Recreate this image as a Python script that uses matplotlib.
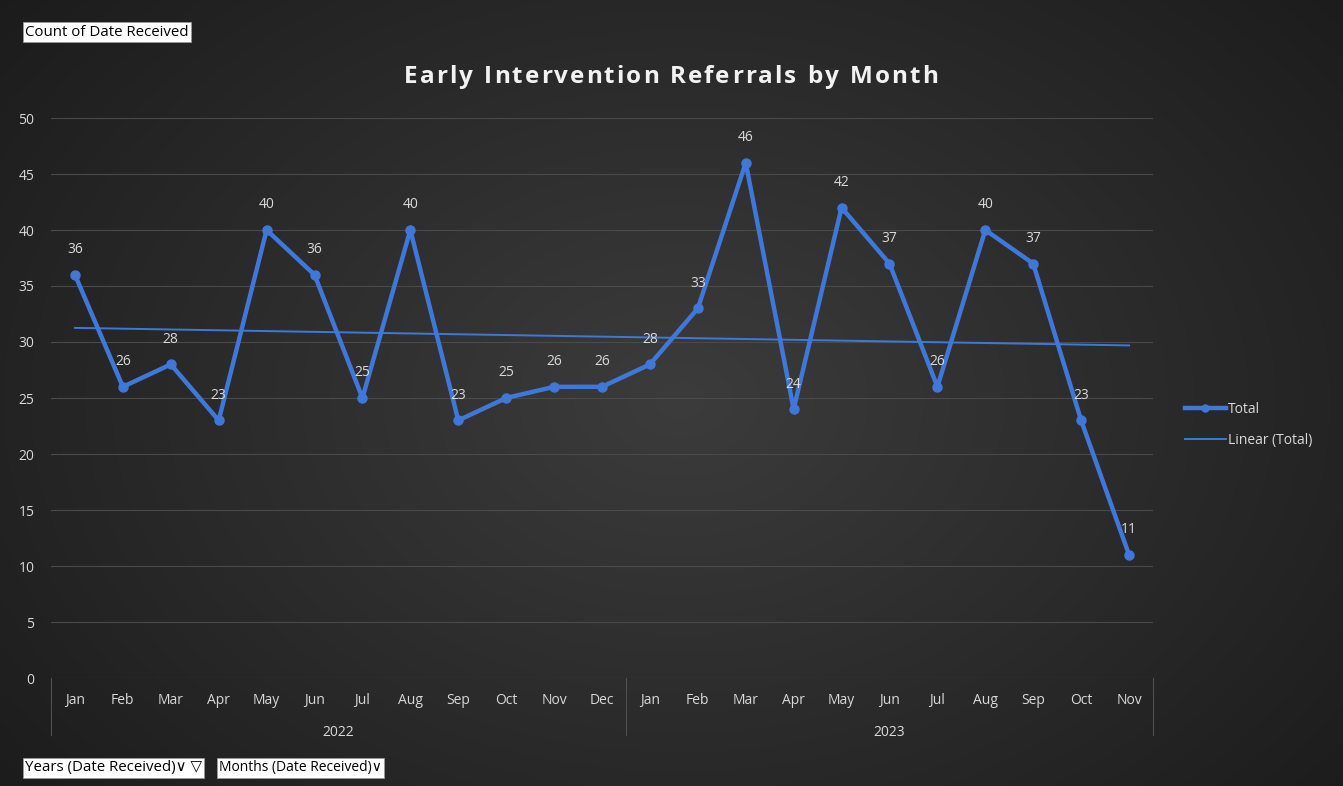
import numpy as np
import matplotlib.pyplot as plt
from matplotlib.lines import Line2D

plt.rcParams['font.family'] = ['Open Sans', 'DejaVu Sans']

# 数据
months = ['Jan', 'Feb', 'Mar', 'Apr', 'May', 'Jun', 'Jul', 'Aug', 'Sep', 'Oct', 'Nov', 'Dec',
          'Jan', 'Feb', 'Mar', 'Apr', 'May', 'Jun', 'Jul', 'Aug', 'Sep', 'Oct', 'Nov']
years = ['2022', '2023']
year_counts = [12, 11]
totals = [36, 26, 28, 23, 40, 36, 25, 40, 23, 25, 26, 26,
          28, 33, 46, 24, 42, 37, 26, 40, 37, 23, 11]
title = 'Early Intervention Referrals by Month'

W, H = 1343, 786
blue = '#3f78d8'
txt = '#d9d9d9'

fig = plt.figure(figsize=(W / 100, H / 100), dpi=100)

# 背景径向渐变
bg = fig.add_axes([0, 0, 1, 1], zorder=-1)
yy, xx = np.mgrid[0:H, 0:W]
r = np.sqrt(((xx - 680) / 900.0) ** 2 + ((yy - 400) / 650.0) ** 2)
r = np.clip(r, 0, 1)
g = 0.235 - 0.13 * r
bg.imshow(np.dstack([g, g, g]), aspect='auto', extent=[0, 1, 0, 1])
bg.axis('off')

left, right, top, bottom = 51, 1153, 118, 678
ax = fig.add_axes([left / W, 1 - bottom / H, (right - left) / W, (bottom - top) / H])
ax.set_facecolor('none')

x = np.arange(len(totals))
ax.set_xlim(-0.5, len(totals) - 0.5)
ax.set_ylim(0, 50)

# 网格
for v in range(5, 51, 5):
    ax.axhline(v, color='#4a4a4a', lw=0.8, zorder=0)
ax.axhline(0, color='#555555', lw=0.8, zorder=0)

# 趋势线
k, b = np.polyfit(x, totals, 1)
ax.plot(x, k * x + b, color=blue, lw=1.4, zorder=2)

ax.plot(x, totals, color=blue, lw=3.2, marker='o', ms=6.5, zorder=3)
for xi, v in zip(x, totals):
    ax.annotate(str(v), (xi, v), xytext=(0, 18), textcoords='offset points',
                ha='center', va='center', color=txt, fontsize=10)

ax.set_yticks(range(0, 51, 5))
ax.tick_params(axis='y', length=0, pad=12, labelcolor=txt, labelsize=10)
ax.set_xticks([])
for s in ax.spines.values():
    s.set_visible(False)

# 分类轴标签
tr = ax.get_xaxis_transform()
for xi, m in zip(x, months):
    ax.text(xi, -0.041, m, transform=tr, ha='center', va='center', color=txt, fontsize=10)
start = -0.5
for yr, n in zip(years, year_counts):
    ax.text(start + n / 2, -0.098, yr, transform=tr, ha='center', va='center', color=txt, fontsize=10)
    ax.plot([start, start], [0, -0.102], transform=tr, color='#505050', lw=0.8, clip_on=False)
    start += n
ax.plot([start, start], [0, -0.102], transform=tr, color='#505050', lw=0.8, clip_on=False)

# 标题：逐字符绘制，加字距
renderer = fig.canvas.get_renderer()
spacing = 2.0
tsize = 17.5
widths = []
for ch in title:
    t = fig.text(0, 0, ch if ch != ' ' else 'n', fontsize=tsize, fontweight='bold')
    w = t.get_window_extent(renderer).width
    if ch == ' ':
        w *= 0.45
    widths.append(w)
    t.remove()
total_w = sum(widths) + spacing * (len(title) - 1)
cx = 671 - total_w / 2
for ch, w in zip(title, widths):
    if ch != ' ':
        fig.text(cx / W, 1 - 77 / H, ch, ha='left', va='center', color='#f2f2f2',
                 fontsize=tsize, fontweight='bold')
    cx += w + spacing

# 图例
handles = [Line2D([], [], color=blue, lw=3.2, marker='o', ms=5),
           Line2D([], [], color=blue, lw=1.4)]
fig.legend(handles, ['Total', 'Linear (Total)'], loc='center left',
           bbox_to_anchor=(1172 / W, 1 - 425 / H), frameon=False, labelcolor=txt,
           fontsize=10, handlelength=3.0, handletextpad=0.1, labelspacing=1.2)

# 字段按钮
box = dict(boxstyle='square,pad=0.15', fc='white', ec='#999999', lw=0.6)
fig.text(25 / W, 1 - 32 / H, 'Count of Date Received', ha='left', va='center',
         color='black', fontsize=10.8, bbox=box)
fig.text(25 / W, 1 - 768 / H, 'Years (Date Received)\u2228 \u25bd', ha='left', va='center',
         color='black', fontsize=10.8, bbox=box)
fig.text(219 / W, 1 - 768 / H, 'Months (Date Received)\u2228', ha='left', va='center',
         color='black', fontsize=10, bbox=box)

fig.savefig('out.png', dpi=100)
